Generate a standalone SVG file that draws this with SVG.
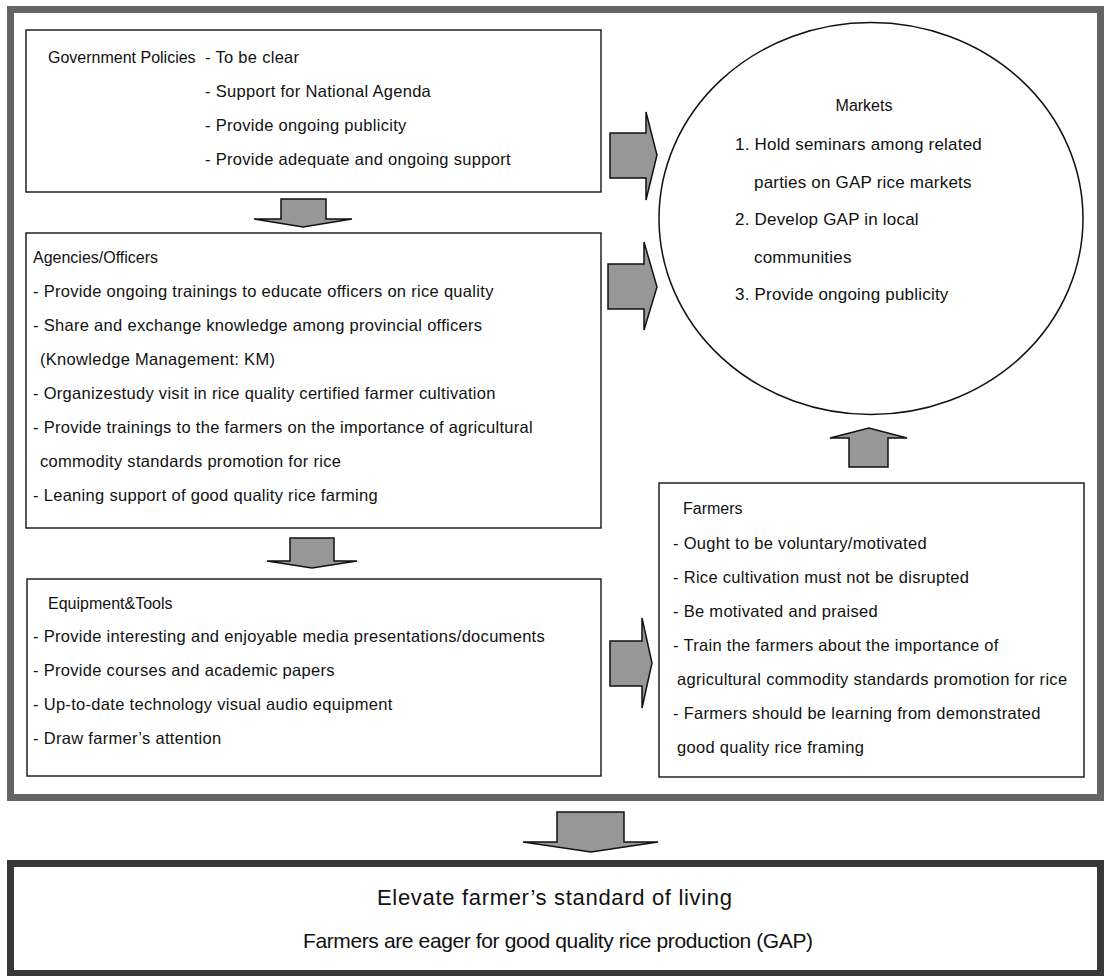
<svg xmlns="http://www.w3.org/2000/svg" width="1104" height="976" viewBox="0 0 1104 976">
<style>
.box{fill:#fff;stroke:#222;stroke-width:1.5}
.arr{fill:#979797;stroke:#111;stroke-width:1.5;stroke-linejoin:miter}
text{font-family:"Liberation Sans",Arial,sans-serif;fill:#111}
.t{font-size:16.5px;letter-spacing:0.3px}
.h{font-size:16px}
.m{font-size:17px;letter-spacing:0.2px}
.b{font-size:21px}
</style>
<rect x="0" y="0" width="1104" height="976" fill="#fff"/>
<rect id="frame" x="10.5" y="9.5" width="1090" height="788" fill="none" stroke="#646464" stroke-width="7"/>
<g id="gov">
<rect class="box" x="26" y="30" width="575" height="162"/>
<text class="h" x="48" y="63">Government Policies</text>
<text class="t" x="205" y="63">- To be clear</text>
<text class="t" x="205" y="97">- Support for National Agenda</text>
<text class="t" x="205" y="131">- Provide ongoing publicity</text>
<text class="t" x="205" y="165">- Provide adequate and ongoing support</text>
</g>
<g id="agencies">
<rect class="box" x="26" y="233" width="575" height="295"/>
<text class="h" x="33" y="263">Agencies/Officers</text>
<text class="t" x="33" y="297">- Provide ongoing trainings to educate officers on rice quality</text>
<text class="t" x="33" y="331">- Share and exchange knowledge among provincial officers</text>
<text class="t" x="40" y="365">(Knowledge Management: KM)</text>
<text class="t" x="33" y="399">- Organizestudy visit in rice quality certified farmer cultivation</text>
<text class="t" x="33" y="433">- Provide trainings to the farmers on the importance of agricultural</text>
<text class="t" x="40" y="467">commodity standards promotion for rice</text>
<text class="t" x="33" y="501">- Leaning support of good quality rice farming</text>
</g>
<g id="equipment">
<rect class="box" x="27" y="579" width="574" height="197"/>
<text class="h" x="48" y="609">Equipment&amp;Tools</text>
<text class="t" x="33" y="642">- Provide interesting and enjoyable media presentations/documents</text>
<text class="t" x="33" y="676">- Provide courses and academic papers</text>
<text class="t" x="33" y="710">- Up-to-date technology visual audio equipment</text>
<text class="t" x="33" y="744">- Draw farmer’s attention</text>
</g>
<g id="farmers">
<rect class="box" x="659" y="483" width="425" height="294"/>
<text class="h" x="683" y="514">Farmers</text>
<text class="t" x="673" y="549">- Ought to be voluntary/motivated</text>
<text class="t" x="673" y="583">- Rice cultivation must not be disrupted</text>
<text class="t" x="673" y="617">- Be motivated and praised</text>
<text class="t" x="673" y="651">- Train the farmers about the importance of</text>
<text class="t" x="677" y="685">agricultural commodity standards promotion for rice</text>
<text class="t" x="673" y="719">- Farmers should be learning from demonstrated</text>
<text class="t" x="677" y="753">good quality rice framing</text>
</g>
<g id="markets">
<ellipse cx="871" cy="218.5" rx="212" ry="196" fill="#fff" stroke="#111" stroke-width="1.5"/>
<text class="h" x="864" y="111" text-anchor="middle">Markets</text>
<text class="m" x="735" y="150">1. Hold seminars among related</text>
<text class="m" x="754" y="188">parties on GAP rice markets</text>
<text class="m" x="735" y="225">2. Develop GAP in local</text>
<text class="m" x="754" y="263">communities</text>
<text class="m" x="735" y="300">3. Provide ongoing publicity</text>
</g>
<g id="result">
<rect x="10.5" y="863.5" width="1090" height="110" fill="#fff" stroke="#383838" stroke-width="7"/>
<text class="b" x="377" y="905" style="font-size:22px" textLength="355" lengthAdjust="spacing">Elevate farmer’s standard of living</text>
<text class="b" x="303" y="948" textLength="510" lengthAdjust="spacing">Farmers are eager for good quality rice production (GAP)</text>
</g>
<g id="connectors">
<polygon class="arr" points="610,133 646,133 646,112 657,155 646,200 646,178 610,178"/>
<polygon class="arr" points="608,264 644,264 644,242 657,287 644,330 644,309 608,309"/>
<polygon class="arr" points="610,641 642,641 642,618 652,663 642,708 642,686 610,686"/>
<polygon class="arr" points="281,199 326,199 326,219 352,219 303,227 254,219 281,219"/>
<polygon class="arr" points="290,538 334,538 334,561 357,561 312,568 267,561 290,561"/>
<polygon class="arr" points="849,467 888,467 888,438 907,438 869,428 830,438 849,438"/>
<polygon class="arr" points="557,812 624,812 624,842 658,842 591,852 523,842 557,842"/>
</g>
</svg>
